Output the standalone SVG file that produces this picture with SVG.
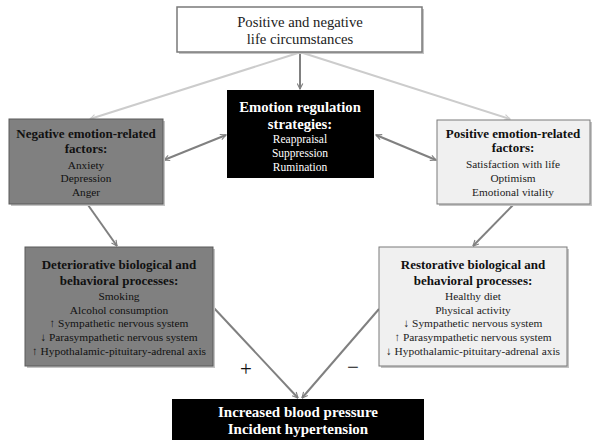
<svg xmlns="http://www.w3.org/2000/svg" width="600" height="448" viewBox="0 0 600 448">
<defs>
<style>
.t{font-family:"Liberation Serif","Times New Roman",serif;text-anchor:middle}
.b{font-weight:bold}
.sh{fill:#c4c4c4}
.ln{stroke:#808080;stroke-width:2;fill:none}
.lt{stroke:#cccccc;stroke-width:2;fill:none}
</style>
<marker id="ah" viewBox="0 0 10 10" refX="9" refY="5" markerWidth="7" markerHeight="7" markerUnits="userSpaceOnUse" orient="auto-start-reverse">
<path d="M1,1 L9,5 L1,9" fill="none" stroke="#808080" stroke-width="1.6"/>
</marker>
<marker id="ahl" viewBox="0 0 10 10" refX="9" refY="5" markerWidth="7" markerHeight="7" markerUnits="userSpaceOnUse" orient="auto-start-reverse">
<path d="M1,1 L9,5 L1,9" fill="none" stroke="#cccccc" stroke-width="1.6"/>
</marker>
</defs>
<rect width="600" height="448" fill="#ffffff"/>

<g id="connectors">
<line class="ln" x1="300" y1="53" x2="300" y2="89" marker-end="url(#ah)"/>
<line class="lt" x1="298" y1="53" x2="90" y2="119" marker-end="url(#ahl)"/>
<line class="lt" x1="303" y1="53" x2="510" y2="119" marker-end="url(#ahl)"/>
<line class="ln" x1="164" y1="160" x2="226" y2="135" marker-start="url(#ah)" marker-end="url(#ah)"/>
<line class="ln" x1="376" y1="135" x2="436" y2="160" marker-start="url(#ah)" marker-end="url(#ah)"/>
<line class="ln" x1="88" y1="205" x2="117" y2="246" marker-end="url(#ah)"/>
<line class="ln" x1="513" y1="205" x2="473" y2="246" marker-end="url(#ah)"/>
<line class="ln" x1="213" y1="307" x2="298" y2="398" marker-end="url(#ah)"/>
<line class="ln" x1="379" y1="309" x2="302" y2="398" marker-end="url(#ah)"/>
</g>

<g id="top">
<rect class="sh" x="179" y="9" width="245" height="45"/>
<rect x="177" y="7" width="245" height="45" fill="#ffffff" stroke="#7a7a7a" stroke-width="1.5"/>
<text class="t" x="300" y="27" font-size="14.7" fill="#222">Positive and negative</text>
<text class="t" x="300" y="44" font-size="14.7" fill="#222">life circumstances</text>
</g>

<g id="emotion-regulation">
<rect x="227" y="90" width="147" height="88" fill="#000000"/>
<text class="t b" x="300" y="112" font-size="14.7" fill="#ffffff">Emotion regulation</text>
<text class="t b" x="300" y="129" font-size="14.7" fill="#ffffff">strategies:</text>
<text class="t" x="300" y="143" font-size="11.5" fill="#ffffff">Reappraisal</text>
<text class="t" x="300" y="157" font-size="11.5" fill="#ffffff">Suppression</text>
<text class="t" x="300" y="171" font-size="11.5" fill="#ffffff">Rumination</text>
</g>

<g id="negative">
<rect class="sh" x="11" y="121" width="154" height="85"/>
<rect x="9" y="119" width="154" height="85" fill="#808080" stroke="#5a5a5a" stroke-width="1"/>
<text class="t b" x="86" y="138" font-size="13" fill="#111">Negative emotion-related</text>
<text class="t b" x="86" y="153" font-size="13" fill="#111">factors:</text>
<text class="t" x="86" y="169" font-size="11.3" fill="#111">Anxiety</text>
<text class="t" x="86" y="182" font-size="11.3" fill="#111">Depression</text>
<text class="t" x="86" y="196" font-size="11.3" fill="#111">Anger</text>
</g>

<g id="positive">
<rect class="sh" x="439" y="122" width="153" height="84"/>
<rect x="437" y="120" width="153" height="84" fill="#f0f0f0" stroke="#7a7a7a" stroke-width="1"/>
<text class="t b" x="513" y="138" font-size="13" fill="#111">Positive emotion-related</text>
<text class="t b" x="513" y="152" font-size="13" fill="#111">factors:</text>
<text class="t" x="513" y="168" font-size="11.3" fill="#222">Satisfaction with life</text>
<text class="t" x="513" y="182" font-size="11.3" fill="#222">Optimism</text>
<text class="t" x="513" y="196" font-size="11.3" fill="#222">Emotional vitality</text>
</g>

<g id="deteriorative">
<rect class="sh" x="27" y="249" width="188" height="119"/>
<rect x="25" y="247" width="188" height="119" fill="#808080" stroke="#5a5a5a" stroke-width="1"/>
<text class="t b" x="119" y="269" font-size="13" fill="#111">Deteriorative biological and</text>
<text class="t b" x="119" y="285" font-size="13" fill="#111">behavioral processes:</text>
<text class="t" x="119" y="300" font-size="11.4" fill="#111">Smoking</text>
<text class="t" x="119" y="314" font-size="11.4" fill="#111">Alcohol consumption</text>
<text class="t" x="119" y="327" font-size="11.4" fill="#111">↑ Sympathetic nervous system</text>
<text class="t" x="119" y="341" font-size="11.4" fill="#111">↓ Parasympathetic nervous system</text>
<text class="t" x="119" y="355" font-size="11.4" fill="#111">↑ Hypothalamic-pituitary-adrenal axis</text>
</g>

<g id="restorative">
<rect class="sh" x="381" y="249" width="188" height="119"/>
<rect x="379" y="247" width="188" height="119" fill="#f0f0f0" stroke="#7a7a7a" stroke-width="1"/>
<text class="t b" x="473" y="269" font-size="13" fill="#111">Restorative biological and</text>
<text class="t b" x="473" y="285" font-size="13" fill="#111">behavioral processes:</text>
<text class="t" x="473" y="300" font-size="11.4" fill="#222">Healthy diet</text>
<text class="t" x="473" y="314" font-size="11.4" fill="#222">Physical activity</text>
<text class="t" x="473" y="327" font-size="11.4" fill="#222">↓ Sympathetic nervous system</text>
<text class="t" x="473" y="341" font-size="11.4" fill="#222">↑ Parasympathetic nervous system</text>
<text class="t" x="473" y="355" font-size="11.4" fill="#222">↓ Hypothalamic-pituitary-adrenal axis</text>
</g>

<g id="outcome">
<rect x="172" y="399" width="252" height="41" fill="#000000"/>
<text class="t b" x="298" y="417" font-size="15" fill="#ffffff">Increased blood pressure</text>
<text class="t b" x="298" y="434" font-size="15" fill="#ffffff">Incident hypertension</text>
</g>

<g id="signs">
<text class="t" x="246" y="376" font-size="21" fill="#111">+</text>
<text class="t" x="353" y="374" font-size="21" fill="#111">−</text>
</g>
</svg>
